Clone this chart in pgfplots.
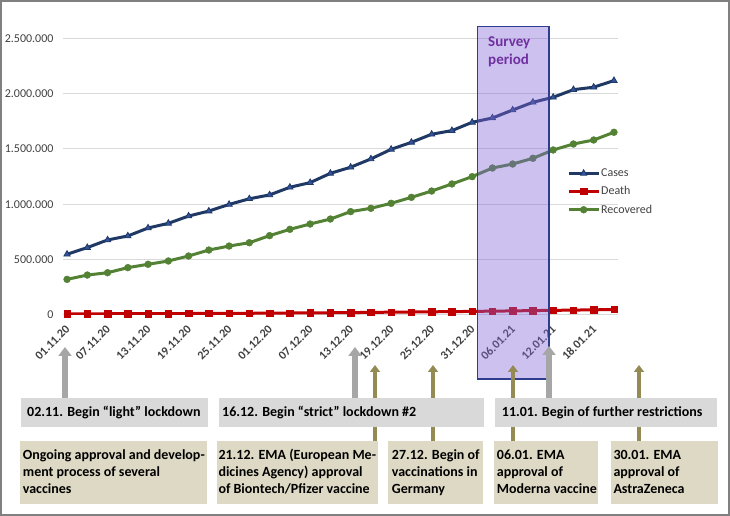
\documentclass[border=0pt]{standalone}
\usepackage{pgfplots}
\usepackage{pgfplotstable}
\pgfplotsset{compat=1.18}
\usepackage{fontspec}
\setmainfont{Carlito}
\usetikzlibrary{arrows.meta}
\definecolor{navy}{RGB}{31,56,100}
\definecolor{navyfill}{RGB}{52,84,160}
\definecolor{dred}{RGB}{192,0,0}
\definecolor{dgreen}{RGB}{84,130,53}
\definecolor{gridc}{RGB}{217,217,217}
\definecolor{txt}{RGB}{64,64,64}
\definecolor{boxgray}{RGB}{217,217,217}
\definecolor{boxtan}{RGB}{221,217,196}
\definecolor{arrgray}{RGB}{166,166,166}
\definecolor{arrtan}{RGB}{148,138,84}
\definecolor{survey}{RGB}{130,100,217}
\definecolor{surveyedge}{RGB}{47,61,143}
\definecolor{purpletxt}{RGB}{112,48,160}

\pgfplotsset{mylegend/.style={legend image code/.code={\draw[mark repeat=2,mark phase=2,##1] plot coordinates {(0pt,0pt) (15pt,0pt) (30pt,0pt)};}}}

\pgfplotstableread{
i cases death recovered
0 549000 10500 322000
1 609000 10900 361000
2 678000 11300 382000
3 714000 11800 428000
4 786000 12400 458000
5 828000 12800 488000
6 894000 13600 533000
7 939000 14100 587000
8 999000 14800 623000
9 1050000 15500 653000
10 1085000 16700 717000
11 1154000 18000 774000
12 1196000 19000 822000
13 1280000 20400 867000
14 1335000 21800 934000
15 1410000 23400 964000
16 1497000 25600 1009000
17 1560000 27000 1063000
18 1633000 29000 1120000
19 1666000 30100 1184000
20 1741000 32800 1250000
21 1780000 34600 1328000
22 1852000 37000 1364000
23 1922000 39900 1416000
24 1967000 41800 1491000
25 2036000 44400 1545000
26 2058000 46600 1581000
27 2118000 49800 1651000
}\data

\begin{document}
\begin{tikzpicture}
% outer frame
\draw[draw=gray, line width=2pt] (1pt,1pt) rectangle (729pt,515pt);

\begin{axis}[
  at={(63pt,201pt)}, anchor=south west,
  scale only axis, width=555pt, height=276.7pt,
  xmin=-0.2, xmax=27.2, ymin=0, ymax=2500000,
  scaled y ticks=false,
  axis line style={draw=none}, tick style={draw=none},
  ymajorgrids, grid style={draw=gridc, line width=1pt},
  ytick={0,500000,1000000,1500000,2000000,2500000},
  yticklabels={0,500.000,1.000.000,1.500.000,2.000.000,2.500.000},
  yticklabel style={font=\fontsize{12}{14}\selectfont, text=txt, xshift=-6pt},
  xtick={0,2,...,26},
  xticklabels={01.11.20,07.11.20,13.11.20,19.11.20,25.11.20,01.12.20,07.12.20,13.12.20,19.12.20,25.12.20,31.12.20,06.01.21,12.01.21,18.01.21},
  xticklabel style={font=\fontsize{12}{14}\selectfont\bfseries, text=txt, xshift=3pt, yshift=-10pt, rotate=45, anchor=east},
  legend style={at={(0.908,0.4456)}, anchor=west, draw=none, fill=none, inner sep=0pt,
    font=\fontsize{12}{14}\selectfont, text=txt, row sep=4.5pt,
    nodes={inner xsep=1pt}},
  legend cell align=left,
]
\addplot[navy, line width=3pt, mark=triangle*, mark size=3.6pt, mark options={fill=navyfill, draw=navy, line width=0.8pt}, mylegend] table[x=i, y=cases] {\data};
\addlegendentry{Cases}
\addplot[dred, line width=3pt, mark=square*, mark size=3.2pt, mark options={fill=dred, draw=dred, line width=0.5pt}, mylegend] table[x=i, y=death] {\data};
\addlegendentry{Death}
\addplot[dgreen, line width=3pt, mark=*, mark size=3.4pt, mark options={fill=dgreen, draw=dgreen, line width=0.5pt}, mylegend] table[x=i, y=recovered] {\data};
\addlegendentry{Recovered}
\end{axis}

\begin{scope}[x=1pt, y=1pt]
% survey period box
\fill[survey, fill opacity=0.4] (477.7,137) rectangle (549,489.3);
\draw[surveyedge, line width=1.5pt] (477.7,137) rectangle (549,489.3);
\node[anchor=base west, inner sep=0, text=purpletxt, font=\fontsize{15}{18}\selectfont\bfseries] at (488,469.3) {Survey};
\node[anchor=base west, inner sep=0, text=purpletxt, font=\fontsize{15}{18}\selectfont\bfseries] at (488,451) {period};

% tan boxes
\fill[boxtan] (20,12) rectangle (207,75.3);
\fill[boxtan] (217,12) rectangle (378,75.3);
\fill[boxtan] (388,12) rectangle (483,75.3);
\fill[boxtan] (494,12) rectangle (598,75.3);
\fill[boxtan] (611,12) rectangle (718,75.3);

% tan arrows
\foreach \xx in {375,433,513,639}
  \draw[arrtan, line width=4pt, -{Triangle[width=10pt,length=7pt]}] (\xx,75) -- (\xx,151);

% gray boxes
\fill[boxgray] (21,89.3) rectangle (208,118.3);
\fill[boxgray] (219,89.3) rectangle (484,118.3);
\fill[boxgray] (495,89.3) rectangle (717,118.3);

% gray arrows
\draw[arrgray, line width=6pt, -{Triangle[width=13pt,length=9pt]}] (65,118) -- (65,169);
\draw[arrgray, line width=6pt, -{Triangle[width=13pt,length=9pt]}] (355,118) -- (355,169);
\draw[arrgray, line width=6pt, -{Triangle[width=13pt,length=9pt]}] (549,118) -- (549,170);

% gray box texts
\begin{scope}[every node/.style={anchor=base west, inner sep=0, text=black, font=\fontsize{14}{16.7}\selectfont\bfseries}]
\node at (27,99.3) {02.11. Begin “light” lockdown};
\node at (222,99.3) {16.12. Begin “strict” lockdown \#2};
\node at (501.7,99.3) {11.01. Begin of further restrictions};

% tan box texts
\node at (22.7,56) {Ongoing approval and develop-};
\node at (22.7,39.3) {ment process of several};
\node at (22.7,22.7) {vaccines};

\node at (218.3,56) {21.12. EMA (European Me-};
\node at (218.3,39.3) {dicines Agency) approval};
\node at (218.3,22.7) {of Biontech/Pfizer vaccine};

\node at (391.7,56) {27.12. Begin of};
\node at (391.7,39.3) {vaccinations in};
\node at (391.7,22.7) {Germany};

\node at (496.7,56) {06.01. EMA};
\node at (496.7,39.3) {approval of};
\node at (496.7,22.7) {Moderna vaccine};

\node at (613.3,56) {30.01. EMA};
\node at (613.3,39.3) {approval of};
\node at (613.3,22.7) {AstraZeneca};
\end{scope}
\end{scope}
\end{tikzpicture}
\end{document}
